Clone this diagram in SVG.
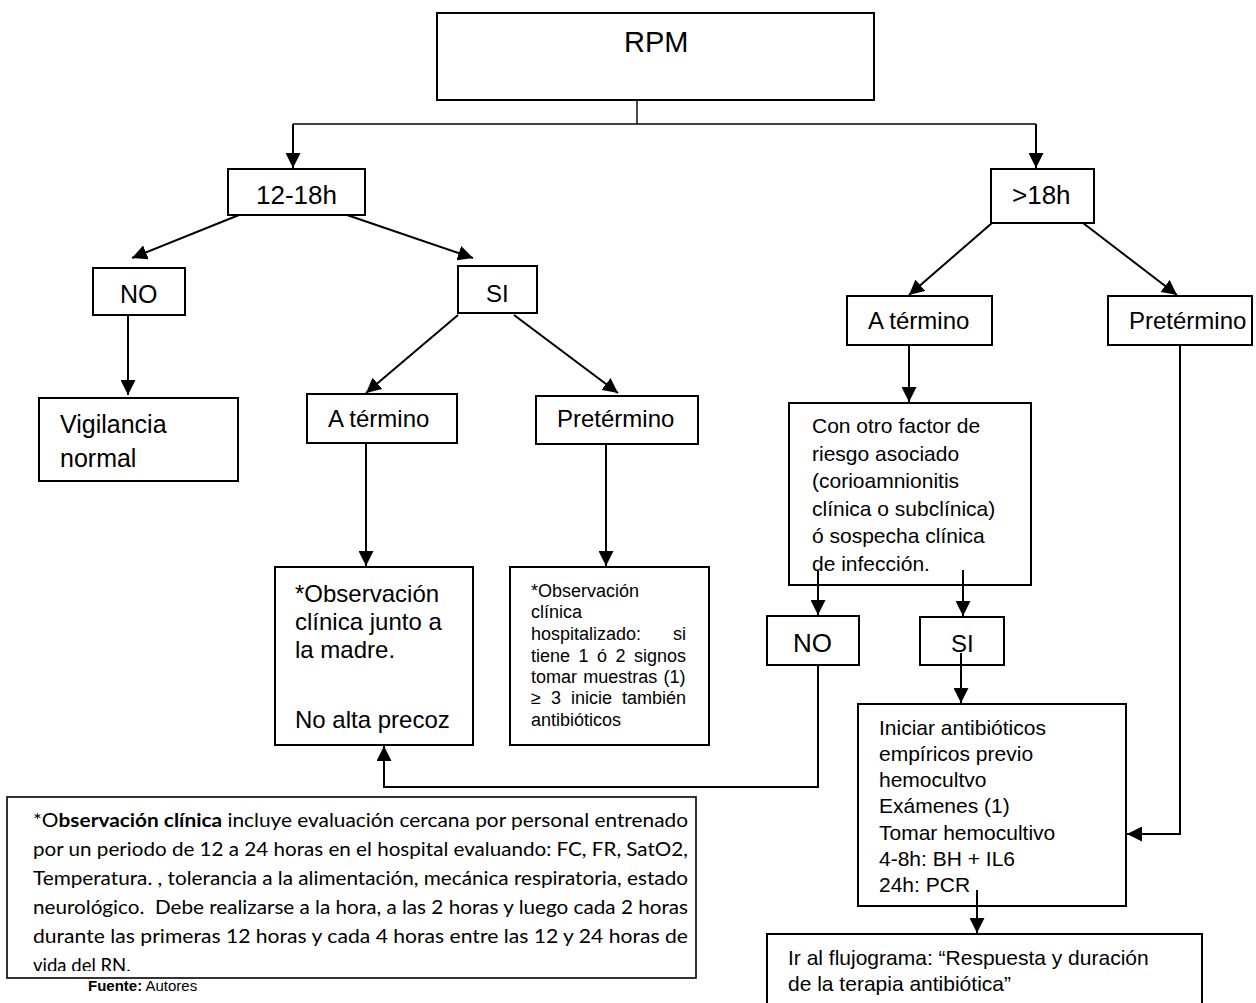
<svg xmlns="http://www.w3.org/2000/svg" width="1256" height="1003" viewBox="0 0 1256 1003">
<style>
  .box { fill: #fff; stroke: #000; stroke-width: 2; }
  .t { font-family: "Liberation Sans", Arial, sans-serif; fill: #000; }
  .fn { font-family: Lato, "Open Sans", sans-serif; fill: #000; font-size: 18.5px; white-space: pre; }
  .c { fill: none; stroke: #000; stroke-width: 2; }
  .thin { fill: none; stroke: #000; stroke-width: 1.4; }
  .a { marker-end: url(#arr); }
</style>
<defs>
  <marker id="arr" markerUnits="userSpaceOnUse" markerWidth="15" markerHeight="15" refX="15" refY="7.5" orient="auto">
    <path d="M0,0 L15,7.5 L0,15 Z" fill="#000"/>
  </marker>
  <clipPath id="fnclip"><rect x="0" y="790" width="700" height="181"/></clipPath>
</defs>
<rect width="1256" height="1003" fill="#fff"/>

<g id="connectors">
  <path class="thin" d="M637,100 V124"/>
  <path class="thin" d="M293,124 H1036"/>
  <path class="c a" d="M293,124 V168"/>
  <path class="c a" d="M1036,124 V168"/>
  <path class="c a" d="M239,215 L132,258"/>
  <path class="c a" d="M347,215 L473,258"/>
  <path class="c a" d="M128,315 V395"/>
  <path class="c a" d="M458,315 L366,393"/>
  <path class="c a" d="M514,315 L618,393"/>
  <path class="c a" d="M366,443 V566"/>
  <path class="c a" d="M606,444 V566"/>
  <path class="c a" d="M992,223 L909,295"/>
  <path class="c a" d="M1083,223 L1177,295"/>
  <path class="c a" d="M909,345 V402"/>
</g>

<g id="n-rpm"><rect class="box" x="437" y="13" width="437" height="87"/><text class="t" x="624" y="52" font-size="29">RPM</text></g>
<g id="n-1218"><rect class="box" x="228" y="169" width="137" height="46"/><text class="t" x="256" y="204" font-size="26">12-18h</text></g>
<g id="n-18"><rect class="box" x="991" y="169" width="103" height="54"/><text class="t" x="1012" y="204" font-size="26">&gt;18h</text></g>
<g id="n-no1"><rect class="box" x="93" y="268" width="92" height="47"/><text class="t" x="120" y="303" font-size="25">NO</text></g>
<g id="n-si1"><rect class="box" x="458" y="266" width="79" height="47"/><text class="t" x="486" y="302" font-size="24">SI</text></g>
<g id="n-vig"><rect class="box" x="39" y="398" width="199" height="83"/><text class="t" x="60" y="433" font-size="25">Vigilancia</text><text class="t" x="60" y="467" font-size="25">normal</text></g>
<g id="n-at1"><rect class="box" x="307" y="394" width="150" height="49"/><text class="t" x="328" y="427" font-size="24">A término</text></g>
<g id="n-pt1"><rect class="box" x="536" y="396" width="162" height="48"/><text class="t" x="557" y="427" font-size="24">Pretérmino</text></g>
<g id="n-obs1"><rect class="box" x="275" y="567" width="198" height="178"/>
  <text class="t" font-size="24"><tspan x="295" y="602">*Observación</tspan><tspan x="295" y="630">clínica junto a</tspan><tspan x="295" y="658">la madre.</tspan><tspan x="295" y="728">No alta precoz</tspan></text></g>
<g id="n-obs2"><rect class="box" x="510" y="567" width="199" height="178"/>
  <text class="t" font-size="18" x="531" y="597">*Observación</text>
  <text class="t" font-size="18" x="531" y="618">clínica</text>
  <text class="t" font-size="18" x="531" y="640">hospitalizado:</text>
  <text class="t" font-size="18" x="686" y="640" text-anchor="end">si</text>
  <text class="t" font-size="18" x="531" y="662" word-spacing="3.5">tiene 1 ó 2 signos</text>
  <text class="t" font-size="18" x="531" y="683" word-spacing="1.2">tomar muestras (1)</text>
  <text class="t" font-size="18" x="531" y="704" word-spacing="5">≥ 3 inicie también</text>
  <text class="t" font-size="18" x="531" y="726">antibióticos</text></g>
<g id="n-at2"><rect class="box" x="847" y="296" width="145" height="49"/><text class="t" x="868" y="329" font-size="24">A término</text></g>
<g id="n-pt2"><rect class="box" x="1108" y="296" width="144" height="49"/><text class="t" x="1129" y="329" font-size="24">Pretérmino</text></g>
<g id="n-con"><rect class="box" x="789" y="403" width="242" height="182"/>
  <text class="t" font-size="21"><tspan x="812" y="433">Con otro factor de</tspan><tspan x="812" y="460.5">riesgo asociado</tspan><tspan x="812" y="488">(corioamnionitis</tspan><tspan x="812" y="515.5">clínica o subclínica)</tspan><tspan x="812" y="543">ó sospecha clínica</tspan><tspan x="812" y="570.5">de infección.</tspan></text></g>
<g id="n-no2"><rect class="box" x="767" y="616" width="92" height="49"/><text class="t" x="793" y="652" font-size="26">NO</text></g>
<g id="n-si2"><rect class="box" x="920" y="617" width="84" height="48"/><text class="t" x="951" y="652" font-size="24">SI</text></g>
<g id="n-ini"><rect class="box" x="858" y="704" width="268" height="202"/>
  <text class="t" font-size="21"><tspan x="879" y="735">Iniciar antibióticos</tspan><tspan x="879" y="761">empíricos previo</tspan><tspan x="879" y="787">hemocultvo</tspan><tspan x="879" y="813">Exámenes (1)</tspan><tspan x="879" y="840">Tomar hemocultivo</tspan><tspan x="879" y="866">4-8h: BH + IL6</tspan><tspan x="879" y="892">24h: PCR</tspan></text></g>
<g id="n-ir"><rect class="box" x="767" y="934" width="435" height="80"/>
  <text class="t" font-size="21"><tspan x="788" y="965">Ir al flujograma: “Respuesta y duración</tspan><tspan x="788" y="991">de la terapia antibiótica”</tspan></text></g>

<g id="connectors2">
  <path class="c a" d="M818,570 V615"/>
  <path class="c a" d="M963,570 V616"/>
  <path class="c a" d="M961,653 V703"/>
  <path class="c a" d="M818,665 V787 H384 V746"/>
  <path class="c a" d="M1180,345 V834 H1127"/>
  <path class="c a" d="M977,890 V933"/>
</g>

<g id="n-note"><rect class="box" x="7" y="797" width="689" height="181" style="stroke-width:1.6"/>
  <g clip-path="url(#fnclip)">
  <text class="fn" x="33" y="827" textLength="655" lengthAdjust="spacingAndGlyphs">*O<tspan font-weight="bold">bservación clínica</tspan> incluye evaluación cercana por personal entrenado</text>
  <text class="fn" x="33" y="856" textLength="655" lengthAdjust="spacingAndGlyphs">por un periodo de 12 a 24 horas en el hospital evaluando: FC, FR, SatO2,</text>
  <text class="fn" x="33" y="885" textLength="655" lengthAdjust="spacingAndGlyphs">Temperatura. , tolerancia a la alimentación, mecánica respiratoria, estado</text>
  <text class="fn" x="33" y="914" textLength="655" lengthAdjust="spacingAndGlyphs">neurológico.  Debe realizarse a la hora, a las 2 horas y luego cada 2 horas</text>
  <text class="fn" x="33" y="943" textLength="655" lengthAdjust="spacingAndGlyphs">durante las primeras 12 horas y cada 4 horas entre las 12 y 24 horas de</text>
  <text class="fn" x="33" y="972">vida del RN.</text>
  </g></g>
<g id="n-src"><text class="t" x="88" y="991" font-size="15"><tspan font-weight="bold">Fuente:</tspan> Autores</text></g>
</svg>
